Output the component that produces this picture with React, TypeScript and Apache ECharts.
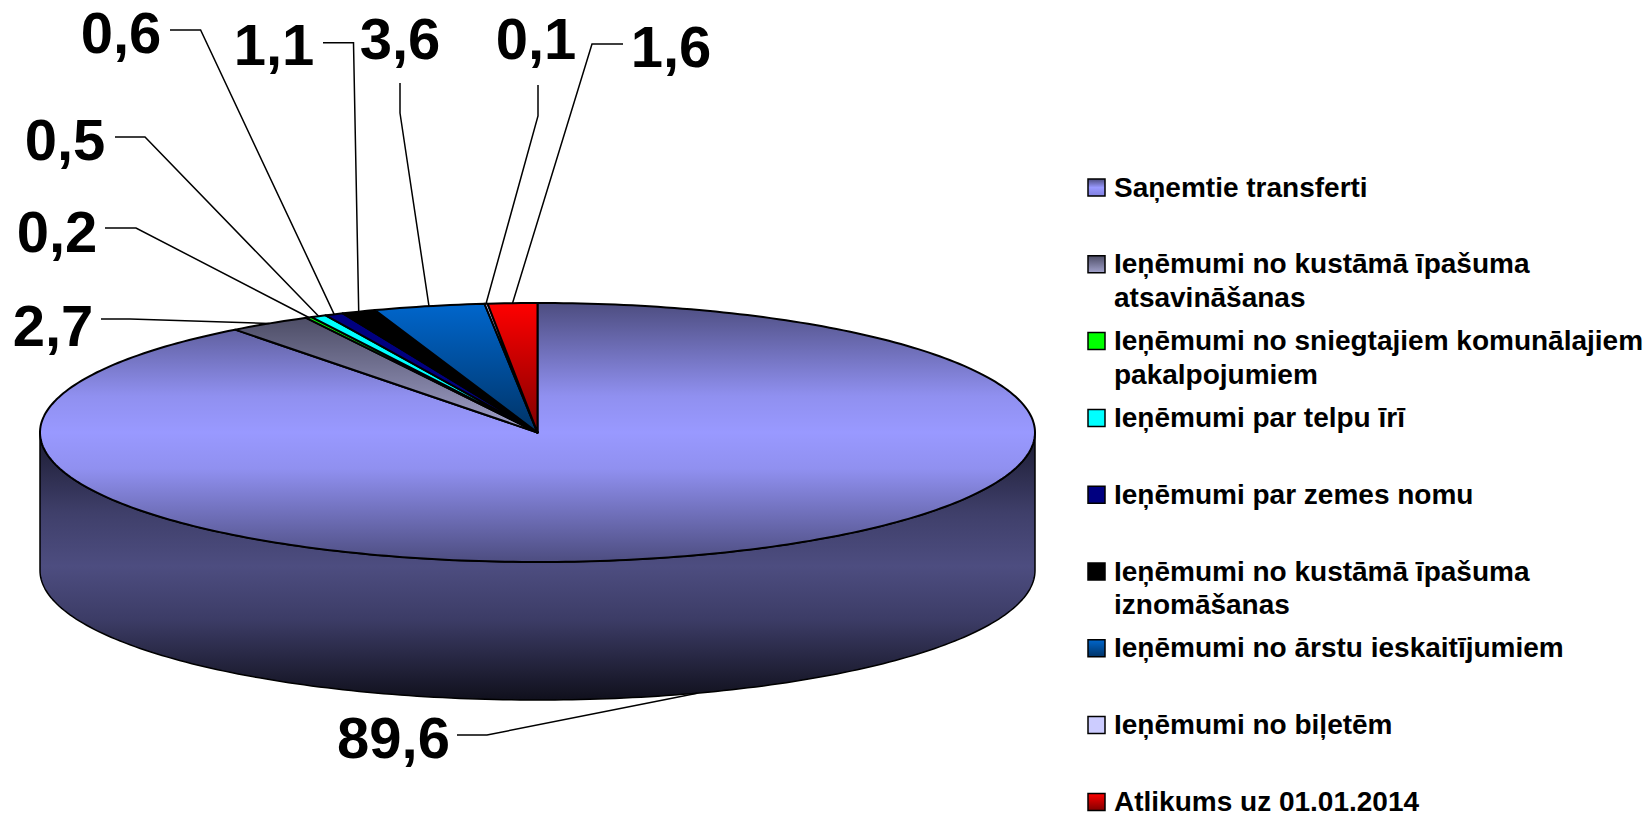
import React, { useEffect, useRef } from "react";
import * as echarts from "echarts";

const categories = [
  "Saņemtie transferti",
  "Ieņēmumi no kustāmā īpašuma\natsavināšanas",
  "Ieņēmumi no sniegtajiem komunālajiem\npakalpojumiem",
  "Ieņēmumi par telpu īrī",
  "Ieņēmumi par zemes nomu",
  "Ieņēmumi no kustāmā īpašuma\niznomāšanas",
  "Ieņēmumi no ārstu ieskaitījumiem",
  "Ieņēmumi no biļetēm",
  "Atlikums uz 01.01.2014",
];
const values = [89.6, 2.7, 0.2, 0.5, 0.6, 1.1, 3.6, 0.1, 1.6];
const valueLabels = ["89,6", "2,7", "0,2", "0,5", "0,6", "1,1", "3,6", "0,1", "1,6"];

// Gradient stops per slice: [offset, colour]
const sliceStops: [number, string][][] = [
  [[0, "#4d4d80"], [0.36, "#9090f0"], [0.5, "#9999ff"], [0.64, "#9090f0"], [1, "#4d4d80"]],
  [[0, "#4d4d66"], [1, "#a3a3cc"]],
  [[0, "#00ff00"], [1, "#00ff00"]],
  [[0, "#00ffff"], [1, "#00ffff"]],
  [[0, "#000080"], [1, "#000080"]],
  [[0, "#000000"], [1, "#000000"]],
  [[0, "#0066cc"], [1, "#003366"]],
  [[0, "#ccccff"], [1, "#ccccff"]],
  [[0, "#ff0000"], [1, "#800000"]],
];
const swatchStops: [number, string][][] = [
  [[0, "#4d4d80"], [0.5, "#9999ff"], [1, "#8080e0"]],
  ...sliceStops.slice(1),
];
const sideStops: [number, string][] = [
  [0, "#1a1a30"],
  [0.3, "#3f3f6a"],
  [0.5, "#4d4d80"],
  [0.7, "#3c3c66"],
  [1, "#10101c"],
];

// Layout of the pseudo-3D disc
const CX = 537.5;
const CY = 432.5;
const RX = 497.5;
const RY = 129.5;
const DEPTH = 138;

// Layout of value labels: text centre, leader start, leader elbow
const labelLayout = [
  { x: 393.5, y: 737, start: [457, 735], elbow: [487, 735] },
  { x: 53, y: 325, start: [101, 319], elbow: [130, 319] },
  { x: 57, y: 231, start: [105, 228], elbow: [136, 228] },
  { x: 65, y: 139, start: [115, 137], elbow: [145, 137] },
  { x: 121, y: 32, start: [170, 30], elbow: [200.6, 30] },
  { x: 274, y: 44, start: [323, 42.7], elbow: [353.5, 42.7] },
  { x: 400, y: 38, start: [400, 83], elbow: [400, 113] },
  { x: 536, y: 38, start: [538, 85], elbow: [538, 116] },
  { x: 671, y: 46, start: [623, 44], elbow: [592, 44] },
];

// Legend layout
const LEGEND_X = 1088;
const LEGEND_Y = 179;
const LEGEND_STEP = 76.8;
const SWATCH = 17;
const LEGEND_TEXT_X = 1114;
const LEGEND_LINE = 33.5;

const FONT = '"Liberation Sans", Arial, sans-serif';
const total = values.reduce((a, b) => a + b, 0);
const TAU = Math.PI * 2;

const sliceAngles = (i: number): [number, number] => {
  let before = 0;
  for (let k = 0; k < i; k++) before += values[k];
  return [(before / total) * TAU, ((before + values[i]) / total) * TAU];
};
const rim = (t: number, dy = 0): [number, number] => [
  CX + RX * Math.sin(t),
  CY - RY * Math.cos(t) + dy,
];
const arc = (a: number, b: number, dy = 0): [number, number][] => {
  const n = Math.max(2, Math.ceil(((b - a) / TAU) * 360));
  const pts: [number, number][] = [];
  for (let k = 0; k <= n; k++) pts.push(rim(a + ((b - a) * k) / n, dy));
  return pts;
};
const grad = (stops: [number, string][]) =>
  new echarts.graphic.LinearGradient(
    0,
    0,
    0,
    1,
    stops.map(([offset, color]) => ({ offset, color })),
  );

const seriesData = values.map((value, i) => ({ name: categories[i].replace("\n", " "), value }));

export default function App() {
  const ref = useRef<HTMLDivElement>(null);

  useEffect(() => {
    if (!ref.current) return;
    const chart = echarts.init(ref.current, undefined, { renderer: "svg" });

    const sideSeries = {
      type: "custom",
      coordinateSystem: "none",
      silent: true,
      data: seriesData,
      renderItem: (p: any) => {
        const [a, b] = sliceAngles(p.dataIndex);
        const lo = Math.max(a, Math.PI / 2);
        const hi = Math.min(b, (Math.PI * 3) / 2);
        if (hi <= lo) return { type: "group", children: [] };
        const pts = [...arc(lo, hi, 0), ...arc(lo, hi, DEPTH).reverse()];
        return {
          type: "polygon",
          shape: { points: pts },
          style: { fill: grad(sideStops), stroke: "#000", lineWidth: 1.5, lineJoin: "round" },
        };
      },
    };

    const topSeries = {
      type: "custom",
      coordinateSystem: "none",
      silent: true,
      data: seriesData,
      renderItem: (p: any) => {
        const [a, b] = sliceAngles(p.dataIndex);
        const pts = [[CX, CY], ...arc(a, b)];
        return {
          type: "polygon",
          shape: { points: pts },
          style: {
            fill: grad(sliceStops[p.dataIndex]),
            stroke: "#000",
            lineWidth: 2,
            lineJoin: "round",
          },
        };
      },
    };

    const labelSeries = {
      type: "custom",
      coordinateSystem: "none",
      silent: true,
      data: seriesData,
      renderItem: (p: any) => {
        const i = p.dataIndex;
        const [a, b] = sliceAngles(i);
        const mid = (a + b) / 2;
        const front = Math.cos(mid) < 0;
        const anchor = rim(mid, front ? DEPTH : 0);
        const l = labelLayout[i];
        return {
          type: "group",
          children: [
            {
              type: "polyline",
              shape: { points: [l.start, l.elbow, anchor] },
              style: { stroke: "#000", lineWidth: 1.5, fill: "none" },
            },
            {
              type: "text",
              style: {
                text: valueLabels[i],
                x: l.x,
                y: l.y,
                fill: "#000",
                font: `bold 58px ${FONT}`,
                textAlign: "center",
                textVerticalAlign: "middle",
              },
            },
          ],
        };
      },
    };

    const legendSeries = {
      type: "custom",
      coordinateSystem: "none",
      silent: true,
      data: seriesData,
      renderItem: (p: any) => {
        const i = p.dataIndex;
        const y = LEGEND_Y + LEGEND_STEP * i;
        const lines = categories[i].split("\n");
        return {
          type: "group",
          children: [
            {
              type: "rect",
              shape: { x: LEGEND_X, y, width: SWATCH, height: SWATCH },
              style: { fill: grad(swatchStops[i]), stroke: "#000", lineWidth: 1.5 },
            },
            ...lines.map((line, k) => ({
              type: "text",
              style: {
                text: line,
                x: LEGEND_TEXT_X,
                y: y + SWATCH / 2 - 0.5 + k * LEGEND_LINE,
                fill: "#000",
                font: `bold 28px ${FONT}`,
                lineHeight: 20,
                textAlign: "left",
                textVerticalAlign: "middle",
              },
            })),
          ],
        };
      },
    };

    chart.setOption({
      animation: false,
      backgroundColor: "#ffffff",
      series: [sideSeries, topSeries, labelSeries, legendSeries],
    });
    return () => chart.dispose();
  }, []);

  return (
    <div
      ref={ref}
      style={{ position: "fixed", left: 0, top: 0, width: 1652, height: 813 }}
    />
  );
}
